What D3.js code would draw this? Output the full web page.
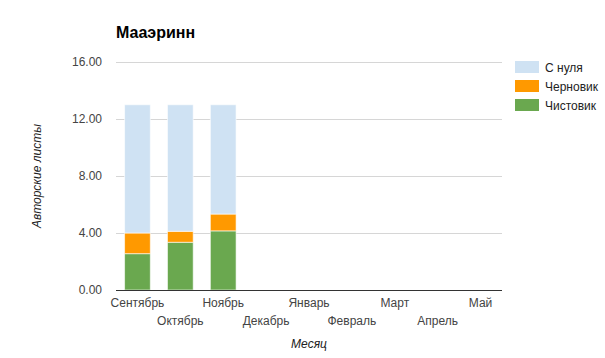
<!DOCTYPE html>
<html>
<head>
<meta charset="utf-8">
<script src="https://cdn.jsdelivr.net/npm/d3@7"></script>
<style>
  body { margin: 0; background: #fff; }
  svg { font-family: "Liberation Sans", Arial, sans-serif; }
</style>
</head>
<body>
<div class="chart"></div>
<script>
// data
const months = ["Сентябрь", "Октябрь", "Ноябрь", "Декабрь", "Январь", "Февраль", "Март", "Апрель", "Май"];
const clean = [2.55, 3.35, 4.15];   // Чистовик
const draft = [1.45, 0.77, 1.18];   // Черновик
const fromZero = [9.0, 8.88, 7.67]; // С нуля
const yTicks = [0, 4, 8, 12, 16];
const seriesNames = ["Чистовик", "Черновик", "С нуля"];
const colors = ["#6aa84f", "#ff9900", "#cfe2f3"];

// setup chart
const width = 605;
const height = 358;
const plotLeft = 116;
const plotRight = 502;
const plotTop = 62;
const plotBottom = 290;

const svg = d3.select(".chart")
   .append("svg")
   .attr("width", width)
   .attr("height", height);

const rows = months.map((m, i) => ({
   month: m,
   "Чистовик": clean[i] || 0,
   "Черновик": draft[i] || 0,
   "С нуля": fromZero[i] || 0
}));
const stacked = d3.stack().keys(seriesNames)(rows);

const xScale = d3.scaleBand()
   .domain(months)
   .range([plotLeft, plotRight])
   .paddingInner(0.4)
   .paddingOuter(0.2);

const yScale = d3.scaleLinear()
   .domain([0, 16])
   .range([plotBottom, plotTop]);

// gridlines
svg.append("g")
   .selectAll("line")
   .data(yTicks.filter((d) => d > 0))
   .enter()
   .append("line")
   .attr("x1", plotLeft)
   .attr("x2", plotRight)
   .attr("y1", (d) => yScale(d) + 0.5)
   .attr("y2", (d) => yScale(d) + 0.5)
   .attr("stroke", "#d6d6d6");

// y axis labels
const yAxis = d3.axisLeft(yScale).tickValues(yTicks).tickFormat(d3.format(".2f")).tickSize(0).tickPadding(14);
const yG = svg.append("g")
   .attr("transform", `translate(${plotLeft}, 0)`)
   .call(yAxis);
yG.select(".domain").remove();
yG.selectAll("text")
   .attr("font-size", 12)
   .attr("font-family", "Liberation Sans, Arial, sans-serif")
   .attr("fill", "#444");

// bars
svg.append("g")
   .selectAll("g")
   .data(stacked)
   .enter()
   .append("g")
   .attr("fill", (d, i) => colors[i])
   .selectAll("rect")
   .data((d) => d.filter((p) => p[1] > p[0]))
   .enter()
   .append("rect")
   .attr("x", (d) => xScale(d.data.month))
   .attr("width", xScale.bandwidth())
   .attr("y", (d) => yScale(d[1]))
   .attr("height", (d) => yScale(d[0]) - yScale(d[1]))
   .attr("stroke", "#ffffff")
   .attr("stroke-opacity", 0.6)
   .attr("stroke-width", 1);

// baseline
svg.append("line")
   .attr("x1", plotLeft)
   .attr("x2", plotRight)
   .attr("y1", plotBottom + 0.5)
   .attr("y2", plotBottom + 0.5)
   .attr("stroke", "#333")
   .attr("stroke-width", 1);

// x axis labels, alternating rows
const xAxis = d3.axisBottom(xScale).tickSize(0).tickPadding(0);
const xG = svg.append("g")
   .attr("transform", `translate(0, ${plotBottom})`)
   .call(xAxis);
xG.select(".domain").remove();
xG.selectAll("text")
   .attr("font-size", 12)
   .attr("font-family", "Liberation Sans, Arial, sans-serif")
   .attr("fill", "#444")
   .attr("dy", null)
   .attr("y", (d, i) => (i % 2 === 0 ? 17 : 35));

// title
svg.append("text")
   .attr("x", plotLeft)
   .attr("y", 38)
   .attr("font-size", 16)
   .attr("font-weight", "bold")
   .attr("fill", "#000")
   .text("Мааэринн");

// axis titles
svg.append("text")
   .attr("x", (plotLeft + plotRight) / 2)
   .attr("y", 348)
   .attr("text-anchor", "middle")
   .attr("font-size", 12)
   .attr("font-style", "italic")
   .attr("fill", "#222")
   .text("Месяц");

svg.append("text")
   .attr("transform", `translate(41, ${(plotTop + plotBottom) / 2}) rotate(-90)`)
   .attr("text-anchor", "middle")
   .attr("font-size", 12)
   .attr("font-style", "italic")
   .attr("fill", "#222")
   .text("Авторские листы");

// legend
const legendOrder = ["С нуля", "Черновик", "Чистовик"];
const legend = svg.append("g")
   .selectAll("g")
   .data(legendOrder)
   .enter()
   .append("g")
   .attr("transform", (d, i) => `translate(515, ${61 + i * 19})`);
legend.append("rect")
   .attr("width", 24)
   .attr("height", 12)
   .attr("fill", (d) => colors[seriesNames.indexOf(d)]);
legend.append("text")
   .attr("x", 30)
   .attr("y", 11)
   .attr("font-size", 12)
   .attr("fill", "#222")
   .text((d) => d);
</script>
</body>
</html>
